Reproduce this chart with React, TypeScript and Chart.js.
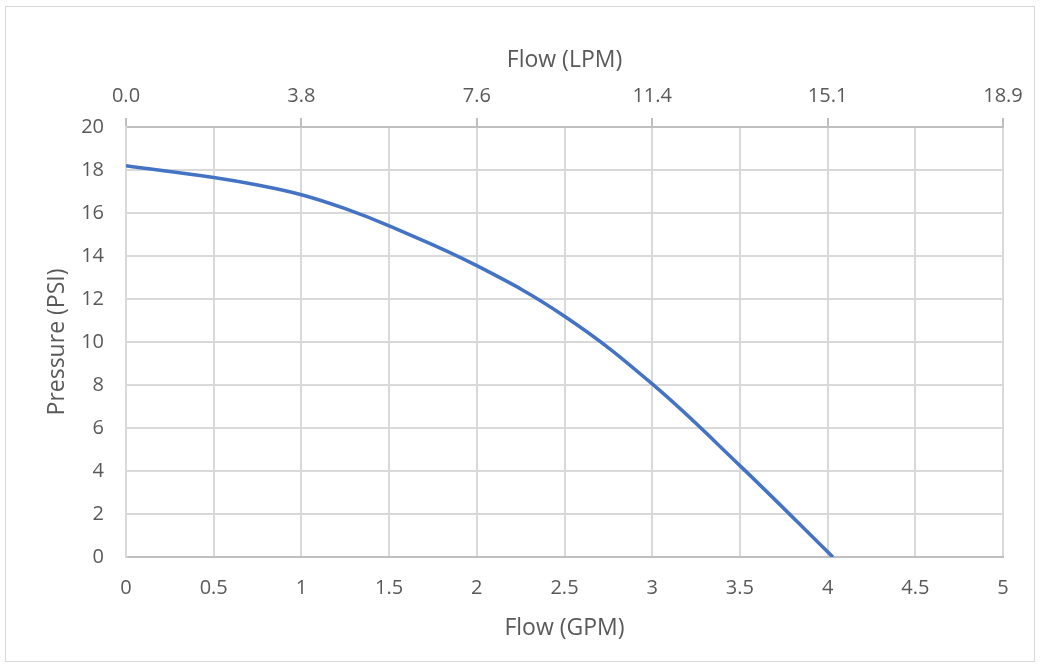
import React, { useEffect, useRef } from "react";
import { Chart, registerables } from "chart.js";

Chart.register(...registerables);

const flowGpm = [0, 0.5, 0.75, 1, 1.25, 1.5, 2, 2.5, 3, 3.5, 4.03];
const pressurePsi = [18.2, 17.65, 17.3, 16.85, 16.2, 15.4, 13.55, 11.2, 8.05, 4.25, 0];
const lpmTickLabels = ["0.0", "3.8", "7.6", "11.4", "15.1", "18.9"];

const FONT = "'Open Sans', sans-serif";
const TEXT = "#595959";
const GRID = "#d9d9d9";

export default function App() {
  const ref = useRef<HTMLCanvasElement>(null);

  useEffect(() => {
    if (!ref.current) return;
    const chart = new Chart(ref.current, {
      type: "scatter",
      data: {
        datasets: [
          {
            data: flowGpm.map((x, i) => ({ x, y: pressurePsi[i] })),
            showLine: true,
            borderColor: "#4472c4",
            backgroundColor: "#4472c4",
            borderWidth: 3.5,
            pointRadius: 0,
            tension: 0.4,
            xAxisID: "x",
            yAxisID: "y",
          },
        ],
      },
      options: {
        animation: false,
        responsive: false,
        maintainAspectRatio: false,
        layout: { padding: { left: 0, right: 38, top: 0, bottom: 0 } },
        plugins: { legend: { display: false }, tooltip: { enabled: false } },
        scales: {
          x: {
            type: "linear",
            position: "bottom",
            min: 0,
            max: 5,
            ticks: {
              stepSize: 0.5,
              padding: 19,
              color: TEXT,
              font: { family: FONT, size: 20 },
              maxRotation: 0,
              callback: (v: any) => String(v),
            },
            grid: { color: GRID, lineWidth: 2, drawTicks: false },
            border: { color: "#bfbfbf", width: 2 },
            title: {
              display: true,
              text: "Flow (GPM)",
              color: TEXT,
              font: { family: FONT, size: 23 },
              padding: { top: 0, bottom: 28 },
            },
            afterFit: (s: any) => {
              s.height = 113;
            },
          },
          x2: {
            type: "linear",
            position: "top",
            min: 0,
            max: 5,
            ticks: {
              stepSize: 1,
              padding: 10,
              color: TEXT,
              font: { family: FONT, size: 20 },
              maxRotation: 0,
              callback: (_v: any, i: number) => lpmTickLabels[i],
            },
            grid: {
              drawOnChartArea: false,
              drawTicks: true,
              tickLength: 9,
              color: "#bfbfbf",
              lineWidth: 2,
            },
            border: { color: "#bfbfbf", width: 2 },
            title: {
              display: true,
              text: "Flow (LPM)",
              color: TEXT,
              font: { family: FONT, size: 23 },
              padding: { top: 47, bottom: 0 },
            },
            afterFit: (s: any) => {
              s.height = 127;
            },
          },
          y: {
            type: "linear",
            position: "left",
            min: 0,
            max: 20,
            ticks: {
              stepSize: 2,
              padding: 22,
              color: TEXT,
              font: { family: FONT, size: 20 },
            },
            grid: { color: GRID, lineWidth: 2, drawTicks: false },
            border: { color: GRID, width: 2 },
            title: {
              display: true,
              text: "Pressure (PSI)",
              color: TEXT,
              font: { family: FONT, size: 23 },
              padding: { top: 44, bottom: 0 },
            },
            afterFit: (s: any) => {
              s.width = 126;
            },
          },
        },
      },
    });
    return () => chart.destroy();
  }, []);

  return (
    <div
      style={{
        position: "fixed",
        left: 0,
        top: 0,
        width: 1041,
        height: 670,
        background: "#ffffff",
      }}
    >
      <div
        style={{
          position: "absolute",
          left: 5,
          top: 6,
          width: 1030,
          height: 656,
          border: "1px solid #d9d9d9",
          boxSizing: "border-box",
        }}
      />
      <canvas
        ref={ref}
        width={1041}
        height={670}
        style={{ position: "absolute", left: 0, top: 0, width: 1041, height: 670 }}
      />
    </div>
  );
}
